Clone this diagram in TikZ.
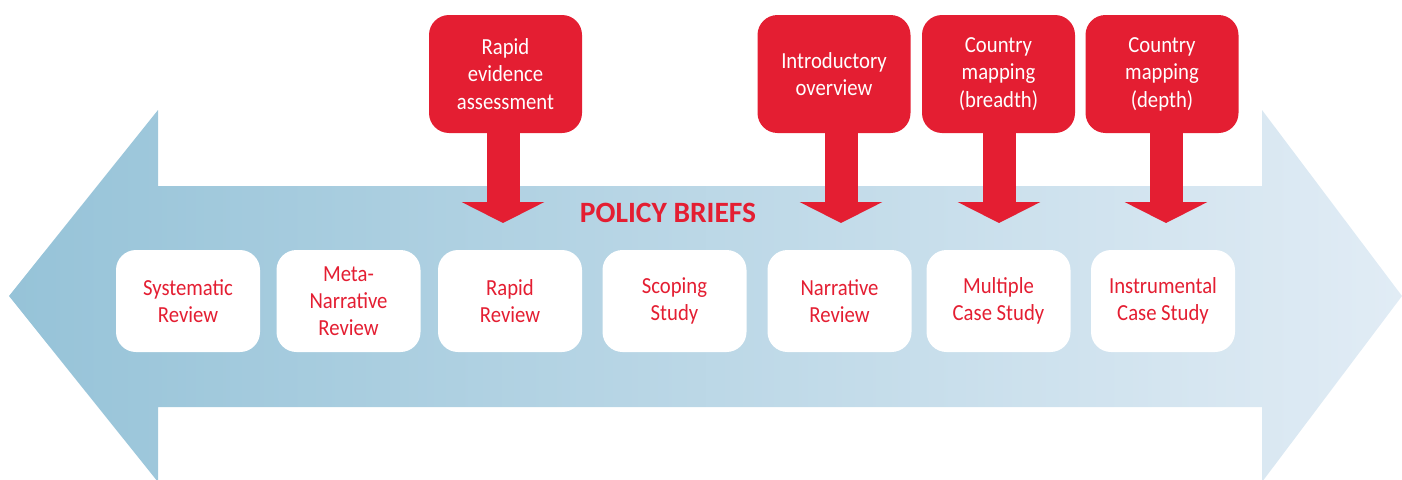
\documentclass[tikz,border=0pt]{standalone}
\usepackage{fontspec}
\setmainfont{Carlito}
\newfontfamily\condfont[FakeStretch=0.9]{Carlito}
\usetikzlibrary{arrows.meta}
\definecolor{brand}{RGB}{228,30,50}
\definecolor{arrowL}{RGB}{150,195,216}
\definecolor{arrowR}{RGB}{225,236,245}
\tikzset{
  callbox/.style={fill=brand, text=white, rounded corners=20pt, minimum width=153pt, minimum height=118pt, inner sep=0pt, align=center, font=\condfont\fontsize{23}{27.5}\selectfont},
  itembox/.style={fill=white, text=brand, rounded corners=20pt, minimum width=144pt, minimum height=102pt, inner sep=0pt, align=center, font=\condfont\fontsize{23}{27}\selectfont},
  callarrow/.style={draw=brand, line width=33pt, -{Triangle[width=82pt,length=21pt]}},
}
\begin{document}
\begin{tikzpicture}[x=1pt,y=-1pt]
\useasboundingbox (0,0) rectangle (1402,479);
% big double arrow
\shade[left color=arrowL, right color=arrowR]
  (9,296) -- (158,110) -- (158,186) -- (1262,186) -- (1262,110) -- (1402,296)
  -- (1262,482) -- (1262,407) -- (158,407) -- (158,482) -- cycle;
% policy briefs
\node[text=brand, font=\fontsize{29.5}{32}\bfseries\selectfont, inner sep=0pt] (pb) at (668,213) {POLICY BRIEFS};
% items
\node[itembox] (sys) at (188,301) {Systematic\\Review};
\node[itembox] (meta) at (348.5,301) {Meta-\\Narrative\\Review};
\node[itembox] (rap) at (510,301) {Rapid\\Review};
\node[itembox] (scop) at (674.5,301) {Scoping\\Study};
\node[itembox] (narr) at (839.5,301) {Narrative\\Review};
\node[itembox] (mult) at (998.5,301) {Multiple\\Case Study};
\node[itembox] (inst) at (1163,301) {Instrumental\\Case Study};
% callouts
\node[callbox] (rea) at (505.5,74) {Rapid\\evidence\\assessment};
\node[callbox] (intro) at (834,74) {Introductory\\overview};
\node[callbox] (cmb) at (998.5,74) {Country\\mapping\\(breadth)};
\node[callbox] (cmd) at (1162,74) {Country\\mapping\\(depth)};
\coordinate (t1) at (503,223);
\coordinate (t2) at (841,223);
\coordinate (t3) at (999,223);
\coordinate (t4) at (1166,223);
\draw[callarrow] (rea.south -| t1) -- (t1);
\draw[callarrow] (intro.south -| t2) -- (t2);
\draw[callarrow] (cmb.south -| t3) -- (t3);
\draw[callarrow] (cmd.south -| t4) -- (t4);
\end{tikzpicture}
\end{document}
